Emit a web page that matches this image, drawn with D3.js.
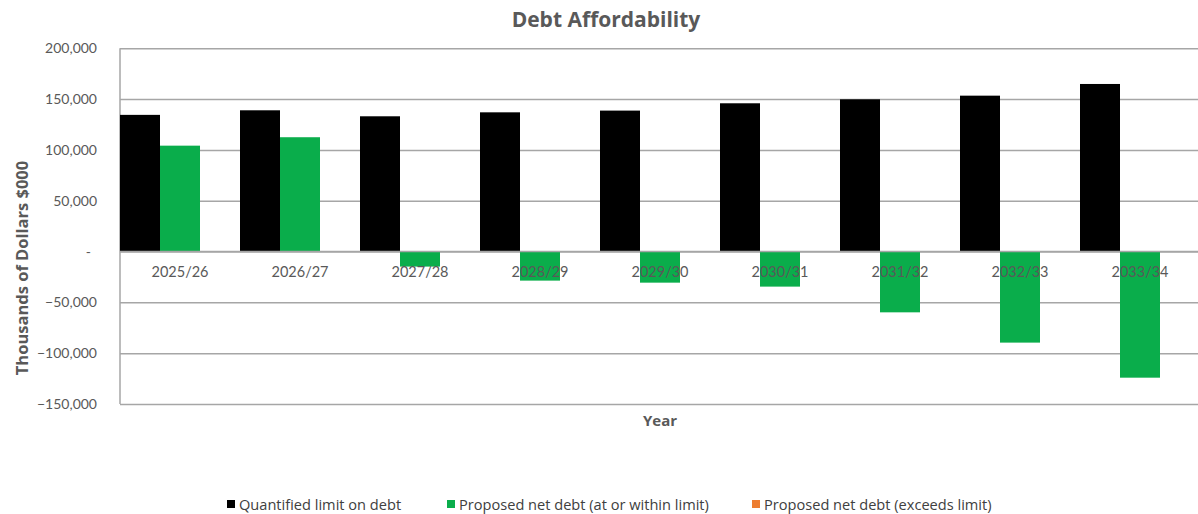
<!DOCTYPE html>
<html><head><meta charset="utf-8">
<script src="https://cdn.jsdelivr.net/npm/d3@7"></script>
<style>body{margin:0;background:#fff;} svg{display:block;font-family:Lato, "Open Sans", sans-serif;}</style>
</head><body><svg id="c" width="1198" height="514"></svg>
<script>
const categories = ["2025/26","2026/27","2027/28","2028/29","2029/30","2030/31","2031/32","2032/33","2033/34"];
const limitValues = [134500,139000,133100,137000,138700,145900,149800,153400,164900];
const withinValues = [104200,112500,-14800,-28600,-30600,-34500,-59800,-89600,-124100];
const exceedsValues = [0,0,0,0,0,0,0,0,0];
const seriesNames = ["Quantified limit on debt","Proposed net debt (at or within limit)","Proposed net debt (exceeds limit)"];
const seriesColors = ["#000000","#0aad4b","#ed7d31"];
const yTicks = [-150000,-100000,-50000,0,50000,100000,150000,200000];

const svg = d3.select("#c");
const L = 120, R = 1200, T = 48.3, B = 404;
const x = d3.scaleBand().domain(categories).range([L, R]).paddingInner(0).paddingOuter(0);
const xs = d3.scaleBand().domain([0,1,2]).range([0, x.bandwidth()]).padding(0);
const y = d3.scaleLinear().domain([-150000, 200000]).range([B, T]);

// gridlines
const grid = svg.append("g").attr("class","grid")
  .attr("transform", `translate(${L},0)`)
  .call(d3.axisLeft(y).tickValues(yTicks).tickSize(-(R-L)).tickFormat(""));
grid.select(".domain").remove();
grid.selectAll("line").attr("stroke","#a6a6a6").attr("stroke-width",1.5);

// left border
svg.append("line").attr("x1",L).attr("x2",L).attr("y1",y(200000)).attr("y2",y(-150000))
  .attr("stroke","#a6a6a6").attr("stroke-width",1.5);

// bars
const data = [limitValues, withinValues, exceedsValues];
data.forEach((vals, si) => {
  svg.append("g").selectAll("rect").data(vals).join("rect")
    .attr("x", (d,i) => x(categories[i]) + xs(si))
    .attr("width", xs.bandwidth())
    .attr("y", d => y(Math.max(0,d)))
    .attr("height", d => Math.abs(y(d) - y(0)))
    .attr("fill", seriesColors[si]);
});

// zero line
svg.append("line").attr("x1",L).attr("x2",R).attr("y1",y(0)).attr("y2",y(0))
  .attr("stroke","#a6a6a6").attr("stroke-width",1.5);

// y tick labels
const yAxis = svg.append("g").attr("transform", `translate(${L-20},0)`)
  .call(d3.axisLeft(y).tickValues(yTicks).tickSize(0)
    .tickFormat(d => d === 0 ? "-" : d3.format(",")(d)));
yAxis.select(".domain").remove();
yAxis.selectAll("text").attr("fill","#595959").attr("font-size","14px")
  .attr("font-family","Lato, sans-serif").attr("dx", d => d === 0 ? "-6" : "0");

// category labels
const xAxis = svg.append("g").attr("transform", `translate(0,${y(0)})`)
  .call(d3.axisBottom(x).tickSize(0).tickPadding(15));
xAxis.select(".domain").remove();
xAxis.selectAll("text").attr("fill","#595959").attr("font-size","14.5px").attr("font-family","Lato, sans-serif");

// title
svg.append("text").attr("x",606).attr("y",27).attr("text-anchor","middle")
  .attr("font-family","'Open Sans', sans-serif")
  .attr("font-size","21px").attr("font-weight","bold").attr("fill","#595959").text("Debt Affordability");

// axis titles
svg.append("text").attr("transform","translate(28,268) rotate(-90)").attr("text-anchor","middle")
  .attr("font-family","'Open Sans', sans-serif")
  .attr("font-size","16.5px").attr("font-weight","bold").attr("fill","#595959").text("Thousands of Dollars $000");
svg.append("text").attr("x",660).attr("y",426).attr("text-anchor","middle")
  .attr("font-family","'Open Sans', sans-serif")
  .attr("font-size","15px").attr("font-weight","bold").attr("fill","#595959").text("Year");

// legend
const legendX = [227, 447, 752];
const lg = svg.append("g");
seriesNames.forEach((n, i) => {
  lg.append("rect").attr("x", legendX[i]).attr("y", 500).attr("width", 8).attr("height", 8).attr("fill", seriesColors[i]);
  lg.append("text").attr("x", legendX[i] + 12).attr("y", 509.5).attr("font-size","14.6px")
    .attr("font-family","'Open Sans', sans-serif")
    .attr("fill","#404040").text(n);
});
</script></body></html>
